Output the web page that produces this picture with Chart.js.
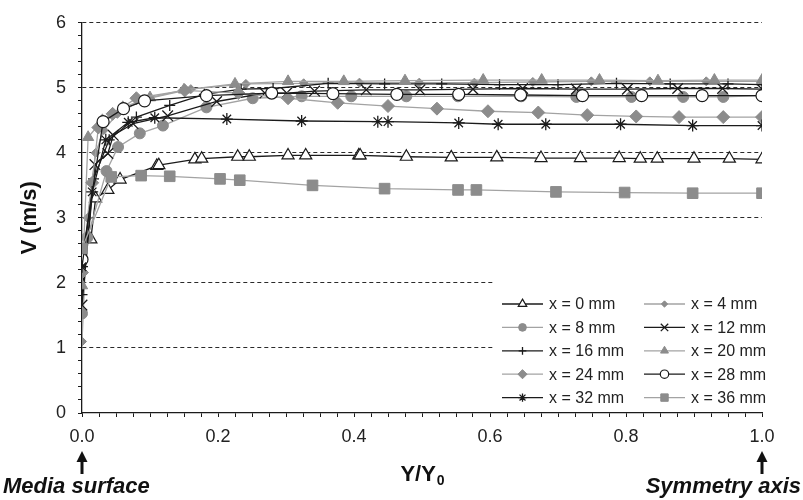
<!DOCTYPE html>
<html>
<head>
<meta charset="utf-8">
<script src="https://cdn.jsdelivr.net/npm/chart.js@4.4.1/dist/chart.umd.min.js"></script>
<style>
  html, body { margin: 0; padding: 0; background: #fff; }
</style>
</head>
<body>
<canvas id="chart" width="803" height="500"></canvas>
<script>
// velocity profiles across the channel, one series per streamwise station
var seriesNames = ['x = 0 mm', 'x = 4 mm', 'x = 8 mm', 'x = 12 mm', 'x = 16 mm',
                   'x = 20 mm', 'x = 24 mm', 'x = 28 mm', 'x = 32 mm', 'x = 36 mm'];

var pos0 = [0.013, 0.020, 0.038, 0.056, 0.110, 0.113, 0.166, 0.176, 0.229, 0.246, 0.303, 0.329, 0.407, 0.409, 0.477, 0.543, 0.610, 0.675, 0.733, 0.790, 0.821, 0.846, 0.900, 0.952, 1.000];
var vel0 = [2.67, 3.30, 3.43, 3.59, 3.80, 3.81, 3.90, 3.91, 3.94, 3.94, 3.96, 3.96, 3.96, 3.96, 3.94, 3.93, 3.93, 3.92, 3.92, 3.92, 3.91, 3.91, 3.91, 3.91, 3.90];

var pos4 = [0.0, 0.008, 0.020, 0.032, 0.052, 0.090, 0.160, 0.241, 0.326, 0.408, 0.496, 0.577, 0.663, 0.749, 0.835, 0.918, 1.0];
var vel4 = [1.10, 3.00, 4.00, 4.35, 4.60, 4.82, 4.98, 5.06, 5.07, 5.08, 5.08, 5.08, 5.09, 5.10, 5.10, 5.10, 5.10];

var pos8 = [0.0, 0.008, 0.036, 0.053, 0.085, 0.119, 0.183, 0.251, 0.323, 0.396, 0.477, 0.553, 0.646, 0.727, 0.808, 0.884, 0.943, 1.0];
var vel8 = [1.53, 2.70, 3.72, 4.09, 4.30, 4.42, 4.70, 4.84, 4.87, 4.87, 4.87, 4.87, 4.87, 4.86, 4.86, 4.86, 4.86, 4.88];

var pos12 = [0.0, 0.019, 0.038, 0.046, 0.075, 0.126, 0.198, 0.269, 0.301, 0.342, 0.418, 0.497, 0.575, 0.648, 0.727, 0.802, 0.876, 0.942, 1.0];
var vel12 = [1.66, 3.82, 3.99, 4.27, 4.45, 4.57, 4.79, 4.92, 4.92, 4.95, 4.97, 4.97, 4.98, 4.99, 4.98, 4.98, 4.99, 4.99, 4.98];

var pos16 = [0.0, 0.017, 0.040, 0.080, 0.129, 0.180, 0.234, 0.281, 0.362, 0.445, 0.529, 0.614, 0.700, 0.786, 0.865, 0.950, 1.0];
var vel16 = [1.82, 3.60, 4.20, 4.55, 4.73, 4.90, 4.98, 4.99, 5.07, 5.06, 5.06, 5.05, 5.05, 5.07, 5.06, 5.06, 5.05];

var pos20 = [0.0, 0.009, 0.030, 0.060, 0.100, 0.150, 0.225, 0.303, 0.385, 0.475, 0.590, 0.676, 0.761, 0.847, 0.930, 1.0];
var vel20 = [1.96, 4.24, 4.50, 4.70, 4.85, 4.97, 5.06, 5.10, 5.10, 5.11, 5.12, 5.12, 5.12, 5.11, 5.12, 5.12];

var pos24 = [0.0, 0.015, 0.024, 0.045, 0.080, 0.151, 0.230, 0.303, 0.376, 0.450, 0.522, 0.597, 0.671, 0.743, 0.815, 0.878, 0.943, 1.0];
var vel24 = [2.16, 3.54, 4.39, 4.60, 4.84, 4.96, 4.92, 4.84, 4.77, 4.72, 4.68, 4.64, 4.62, 4.58, 4.56, 4.55, 4.55, 4.55];

var pos28 = [0.0, 0.031, 0.061, 0.092, 0.183, 0.279, 0.369, 0.463, 0.554, 0.645, 0.736, 0.823, 0.912, 1.0];
var vel28 = [2.36, 4.48, 4.68, 4.80, 4.88, 4.92, 4.91, 4.90, 4.90, 4.89, 4.88, 4.88, 4.88, 4.88];

var pos32 = [0.0, 0.015, 0.035, 0.068, 0.107, 0.213, 0.323, 0.435, 0.450, 0.554, 0.612, 0.682, 0.792, 0.898, 1.0];
var vel32 = [2.25, 3.40, 4.20, 4.47, 4.54, 4.52, 4.49, 4.48, 4.48, 4.46, 4.44, 4.44, 4.44, 4.42, 4.42];

var pos36 = [0.0, 0.043, 0.087, 0.129, 0.203, 0.232, 0.339, 0.445, 0.553, 0.580, 0.697, 0.798, 0.898, 1.0];
var vel36 = [2.53, 3.63, 3.65, 3.64, 3.60, 3.58, 3.50, 3.45, 3.43, 3.43, 3.40, 3.39, 3.38, 3.38];

var xTicksMajor = ['0.0', '0.2', '0.4', '0.6', '0.8', '1.0'];
var yTicksMajor = ['0', '1', '2', '3', '4', '5', '6'];

var positions = [pos0, pos4, pos8, pos12, pos16, pos20, pos24, pos28, pos32, pos36];
var velocities = [vel0, vel4, vel8, vel12, vel16, vel20, vel24, vel28, vel32, vel36];

var INK = '#1b1b1b';
var GREY = '#8c8c8c';
var GREY_LINE = '#a3a3a3';
var FONT = "'Liberation Sans', Arial, sans-serif";

// marker look for each station
var looks = [
  { shape: 'triangle', r: 7,   fill: '#fff', edge: INK,  line: INK,       bw: 1.2 },
  { shape: 'rectRot',  r: 4.5, fill: GREY,   edge: GREY, line: GREY_LINE, bw: 1 },
  { shape: 'circle',   r: 5.5, fill: GREY,   edge: GREY, line: GREY_LINE, bw: 1 },
  { shape: 'crossRot', r: 7.5, fill: INK,    edge: INK,  line: INK,       bw: 1.3 },
  { shape: 'cross',    r: 5.5, fill: INK,    edge: INK,  line: INK,       bw: 1.3 },
  { shape: 'triangle', r: 6.5, fill: GREY,   edge: GREY, line: GREY_LINE, bw: 1 },
  { shape: 'rectRot',  r: 6.5, fill: GREY,   edge: GREY, line: GREY_LINE, bw: 1 },
  { shape: 'circle',   r: 6,   fill: '#fff', edge: INK,  line: INK,       bw: 1.2 },
  { shape: 'star',     r: 6,   fill: INK,    edge: INK,  line: INK,       bw: 1.3 },
  { shape: 'rect',     r: 7.5, fill: GREY,   edge: GREY, line: GREY_LINE, bw: 1 }
];

var datasets = seriesNames.map(function (name, i) {
  var lk = looks[i];
  return {
    label: name,
    data: positions[i].map(function (p, k) { return { x: p, y: velocities[i][k] }; }),
    showLine: true,
    tension: 0,
    borderColor: lk.line,
    borderWidth: 1.3,
    pointStyle: lk.shape,
    pointRadius: lk.r,
    pointHoverRadius: lk.r,
    pointBackgroundColor: lk.fill,
    pointBorderColor: lk.edge,
    pointBorderWidth: lk.bw,
    order: seriesNames.length - i
  };
});

// legend with a short line through each marker, on a white panel
var legendPanel = {
  id: 'legendPanel',
  afterDatasetsDraw: function (chart) {
    var ctx = chart.ctx, area = chart.chartArea;
    var left = area.right - 268, top = area.bottom - 138;
    ctx.save();
    ctx.fillStyle = '#fff';
    ctx.fillRect(left, top, 270, 136);
    ctx.font = '16px ' + FONT;
    ctx.textBaseline = 'middle';
    chart.data.datasets.forEach(function (ds, i) {
      var col = i % 2, row = Math.floor(i / 2);
      var x0 = left + 8 + col * 142;
      var y = top + 29 + row * 23.4;
      ctx.strokeStyle = ds.borderColor;
      ctx.lineWidth = ds.borderWidth;
      ctx.beginPath();
      ctx.moveTo(x0, y);
      ctx.lineTo(x0 + 41, y);
      ctx.stroke();
      ctx.fillStyle = ds.pointBackgroundColor;
      ctx.strokeStyle = ds.pointBorderColor;
      ctx.lineWidth = ds.pointBorderWidth;
      Chart.helpers.drawPoint(ctx, {
        pointStyle: ds.pointStyle, radius: ds.pointRadius * 0.7,
        rotation: 0, borderWidth: ds.pointBorderWidth
      }, x0 + 20.5, y);
      ctx.fillStyle = '#222';
      ctx.fillText(ds.label, x0 + 47, y + 1);
    });
    ctx.restore();
  }
};

// x-axis title with subscript, plus the wall / axis arrows underneath
var bottomNotes = {
  id: 'bottomNotes',
  afterDraw: function (chart) {
    var ctx = chart.ctx, area = chart.chartArea, xs = chart.scales.x;
    ctx.save();
    ctx.fillStyle = '#111';

    var cx = (area.left + area.right) / 2;
    ctx.font = 'bold 22px ' + FONT;
    var main = 'Y/Y';
    var wMain = ctx.measureText(main).width;
    ctx.font = 'bold 14px ' + FONT;
    var wSub = ctx.measureText('0').width;
    var startX = cx - (wMain + wSub) / 2;
    ctx.textBaseline = 'alphabetic';
    ctx.textAlign = 'left';
    ctx.font = 'bold 22px ' + FONT;
    ctx.fillText(main, startX, area.bottom + 68);
    ctx.font = 'bold 14px ' + FONT;
    ctx.fillText('0', startX + wMain + 1, area.bottom + 72);

    [0, 1].forEach(function (v) {
      var px = xs.getPixelForValue(v);
      var tip = area.bottom + 38;
      ctx.beginPath();
      ctx.moveTo(px, tip);
      ctx.lineTo(px + 5.5, tip + 11);
      ctx.lineTo(px - 5.5, tip + 11);
      ctx.closePath();
      ctx.fill();
      ctx.fillRect(px - 1.5, tip + 10, 3, 13);
    });

    ctx.font = 'italic bold 22px ' + FONT;
    ctx.textAlign = 'left';
    ctx.fillText('Media surface', 3, area.bottom + 80);
    ctx.textAlign = 'right';
    ctx.fillText('Symmetry axis', chart.width - 2, area.bottom + 80);
    ctx.restore();
  }
};

new Chart(document.getElementById('chart'), {
  type: 'scatter',
  data: { datasets: datasets },
  plugins: [legendPanel, bottomNotes],
  options: {
    responsive: false,
    animation: false,
    events: [],
    layout: { padding: { top: 15, right: 41, left: 0, bottom: 0 } },
    plugins: { legend: { display: false }, tooltip: { enabled: false } },
    scales: {
      x: {
        type: 'linear',
        min: 0,
        max: 1,
        afterFit: function (s) { s.height = 87; },
        grid: { drawOnChartArea: false, color: INK, tickColor: INK, tickLength: 4, lineWidth: 1 },
        border: { color: INK, width: 1.3 },
        ticks: {
          stepSize: 0.025,
          autoSkip: false,
          maxRotation: 0,
          padding: 9,
          color: '#222',
          font: { family: FONT, size: 18 },
          callback: function (value) {
            var steps = Math.round(value * 40);
            return steps % 8 === 0 ? xTicksMajor[steps / 8] : '';
          }
        }
      },
      y: {
        type: 'linear',
        min: 0,
        max: 6,
        afterFit: function (s) { s.width = 82; },
        title: {
          display: true,
          text: 'V (m/s)',
          color: '#111',
          font: { family: FONT, size: 22, weight: 'bold' },
          padding: { top: 17, bottom: 0 }
        },
        grid: {
          color: function (c) {
            var f = c.tick ? Math.round(c.tick.value * 5) : 0;
            return (f % 5 === 0 && f > 0) ? '#2a2a2a' : 'rgba(0,0,0,0)';
          },
          tickColor: INK,
          tickLength: 4,
          lineWidth: 1
        },
        border: { color: INK, width: 1.3, dash: [4, 3] },
        ticks: {
          stepSize: 0.2,
          autoSkip: false,
          padding: 12,
          color: '#222',
          font: { family: FONT, size: 18 },
          callback: function (value) {
            var f = Math.round(value * 5);
            return f % 5 === 0 ? yTicksMajor[f / 5] : '';
          }
        }
      }
    }
  }
});
</script>
</body>
</html>
